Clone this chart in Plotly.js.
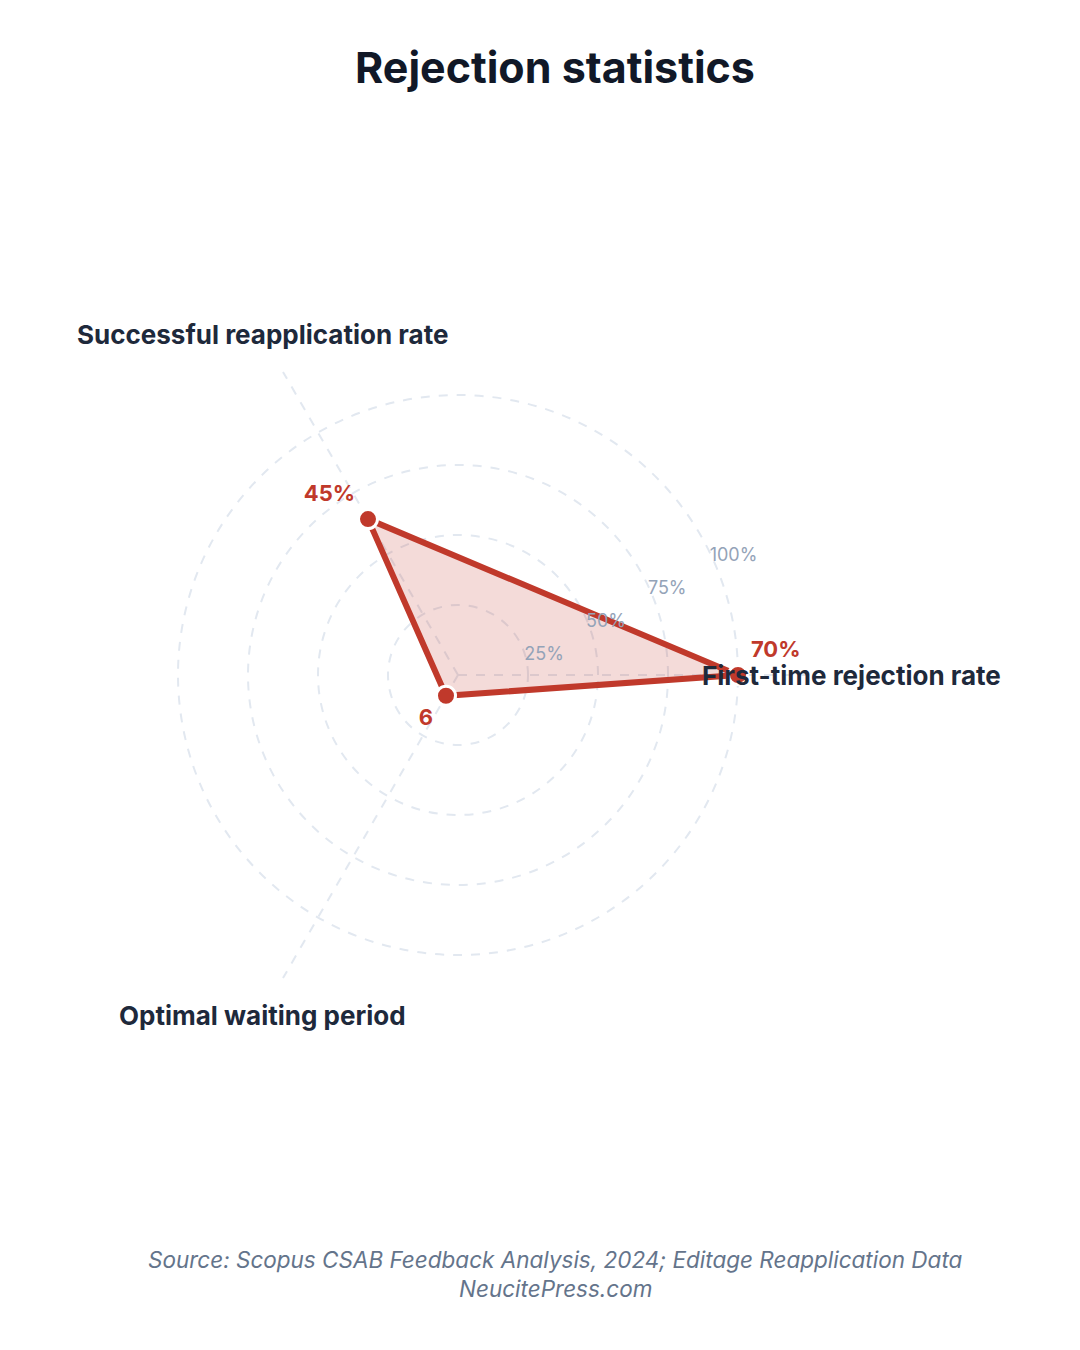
<!DOCTYPE html>
<html>
<head>
<meta charset="utf-8">
<script src="https://cdn.plot.ly/plotly-3.0.1.min.js"></script>
<style>
  html, body { margin: 0; padding: 0; background: #ffffff; }
  #chart { width: 1080px; height: 1350px; }
</style>
</head>
<body>
<div id="chart"></div>
<script>
// radar of three rejection figures, each scaled against the largest one
const CATEGORIES  = [ 'First-time rejection rate', 'Successful reapplication rate', 'Optimal waiting period' ];
const VALUES      = [ 70, 45, 6 ];
const VALUE_TEXT  = [ '70%', '45%', '6' ];
const TICK_VALS   = [ 25, 50, 75, 100 ];
const TICK_TEXT   = [ '25%', '50%', '75%', '100%' ];

const RED   = '#c0392b';
const FONT  = 'Inter, "Noto Sans", sans-serif';

const max_val = Math.max( ...VALUES );
const scaled  = VALUES.map( v => v / max_val * 100 );

// close the polygon
const r_closed     = scaled.concat( [ scaled[ 0 ] ] );
const theta_closed = CATEGORIES.concat( [ CATEGORIES[ 0 ] ] );

const traces = [
	{
		type: 'scatterpolar',
		r: r_closed,
		theta: theta_closed,
		mode: 'lines',
		fill: 'toself',
		fillcolor: 'rgba(192,57,43,0.18)',
		line: { color: RED, width: 6 },
		hoverinfo: 'skip',
		showlegend: false
	},
	{
		type: 'scatterpolar',
		r: scaled,
		theta: CATEGORIES,
		mode: 'markers+text',
		text: VALUE_TEXT,
		textposition: [ 'top right', 'top left', 'bottom left' ],
		textfont: { family: FONT, size: 22, color: RED, weight: 700 },
		marker: { size: 19, color: RED, line: { color: '#ffffff', width: 3 } },
		showlegend: false
	}
];

// category names sit outside the circle like in the original
const label_pos = [
	{ x: 700 / 1080, y: 1 - 675 / 1350, xanchor: 'left' },
	{ x: 262 / 1080, y: 1 - 335 / 1350, xanchor: 'center' },
	{ x: 262 / 1080, y: 1 - 1015 / 1350, xanchor: 'center' }
];
const annotations = CATEGORIES.map( ( c, i ) => ( {
	text: '<b>' + c + '</b>',
	xref: 'paper', yref: 'paper',
	x: label_pos[ i ].x, y: label_pos[ i ].y,
	xanchor: label_pos[ i ].xanchor, yanchor: 'middle',
	showarrow: false,
	font: { family: FONT, size: 26, color: '#1e293b' }
} ) );

annotations.push( {
	text: '<i>Source: Scopus CSAB Feedback Analysis, 2024; Editage Reapplication Data</i>',
	xref: 'paper', yref: 'paper', x: 555 / 1080, y: 1 - 1259 / 1350,
	xanchor: 'center', yanchor: 'middle', showarrow: false,
	font: { family: FONT, size: 22.5, color: '#64748b' }
} );
annotations.push( {
	text: '<i>NeucitePress.com</i>',
	xref: 'paper', yref: 'paper', x: 555 / 1080, y: 1 - 1288 / 1350,
	xanchor: 'center', yanchor: 'middle', showarrow: false,
	font: { family: FONT, size: 22.5, color: '#64748b' }
} );

const layout = {
	width: 1080,
	height: 1350,
	margin: { l: 0, r: 0, t: 0, b: 0 },
	paper_bgcolor: '#ffffff',
	title: {
		text: '<b>Rejection statistics</b>',
		x: 555 / 1080, xref: 'paper',
		y: 1 - 68 / 1350, yref: 'container', yanchor: 'middle',
		font: { family: FONT, size: 43, color: '#111827', weight: 800 }
	},
	polar: {
		domain: { x: [ 108 / 1080, 808 / 1080 ], y: [ 1 - 1025 / 1350, 1 - 325 / 1350 ] },
		bgcolor: 'rgba(0,0,0,0)',
		radialaxis: {
			range: [ 0, 125 ],
			tickvals: TICK_VALS,
			ticktext: TICK_TEXT,
			angle: 28,
			tickangle: 28,
			showline: false,
			ticks: '',
			gridcolor: '#e2e8f0',
			griddash: 'dash',
			gridwidth: 1.5,
			tickfont: { family: FONT, size: 18, color: '#94a3b8' }
		},
		angularaxis: {
			rotation: 0,
			direction: 'counterclockwise',
			showline: false,
			showticklabels: false,
			ticks: '',
			gridcolor: '#e2e8f0',
			griddash: 'dash',
			gridwidth: 1.5
		}
	},
	annotations: annotations
};

Plotly.newPlot( 'chart', traces, layout, { displayModeBar: false } );
</script>
</body>
</html>
